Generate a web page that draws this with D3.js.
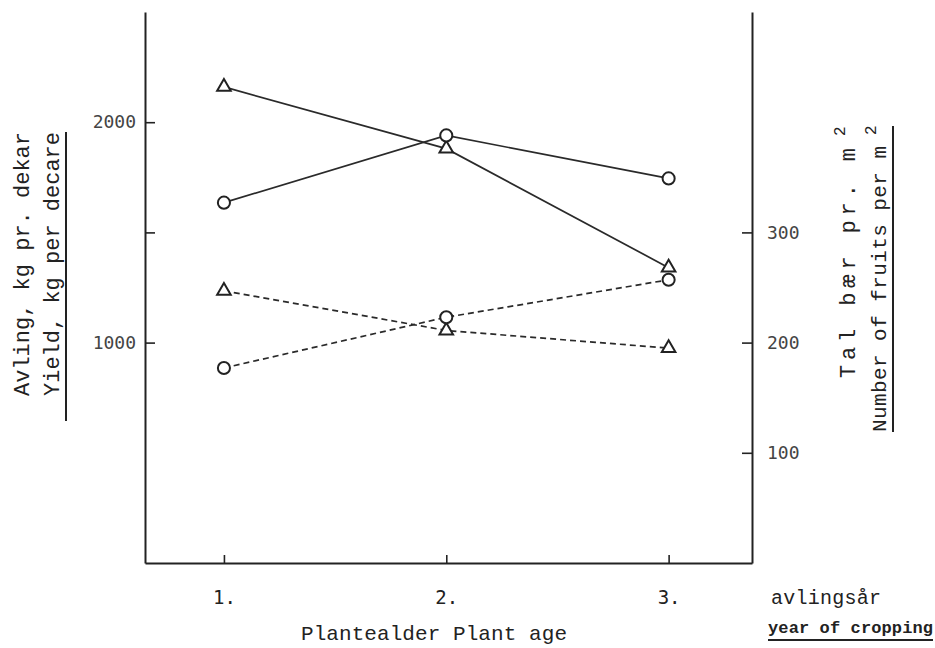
<!DOCTYPE html>
<html>
<head>
<meta charset="utf-8">
<script src="https://cdn.jsdelivr.net/npm/d3@7"></script>
<style>
  body { margin: 0; background: #fff; }
  text { font-family: "Liberation Mono", "DejaVu Sans Mono", monospace; fill: #222; }
  .tick text { font-family: "DejaVu Sans Mono", monospace; fill: #444; }
</style>
</head>
<body>
<div id="chart"></div>
<script>
// plant age (year of cropping)
var years = [1, 2, 3];

// yield, kg per decare (left axis, solid lines)
var yieldTriangle = [2160, 1880, 1340];
var yieldCircle = [1635, 1940, 1745];

// number of fruits per m2 (right axis, dashed lines)
var fruitsTriangle = [247, 211, 195];
var fruitsCircle = [177, 223, 257];

// tick labels
var leftTicks = [1000, 1500, 2000];
var leftLabels = ["1000", "", "2000"];
var rightTicks = [100, 200, 300];

var width = 935, height = 648;

var svg = d3.select("#chart")
  .append("svg")
    .attr("width", width)
    .attr("height", height);

// scales
var x = d3.scaleLinear()
  .domain([0.645, 3.375])
  .range([145, 752]);

var yLeft = d3.scaleLinear()
  .domain([0, 2500])
  .range([563, 12]);

var yRight = d3.scaleLinear()
  .domain([0, 500])
  .range([563, 12]);

// axes
var gLeft = svg.append("g")
  .attr("transform", "translate(145,0)")
  .call(d3.axisLeft(yLeft)
    .tickValues(leftTicks)
    .tickFormat(function(d, i) { return leftLabels[i]; })
    .tickSizeInner(-10)
    .tickSizeOuter(0)
    .tickPadding(9));

var gRight = svg.append("g")
  .attr("transform", "translate(752,0)")
  .call(d3.axisRight(yRight)
    .tickValues(rightTicks)
    .tickSizeInner(-10)
    .tickSizeOuter(0)
    .tickPadding(15));

var gBottom = svg.append("g")
  .attr("transform", "translate(0,563)")
  .call(d3.axisBottom(x)
    .tickValues(years)
    .tickFormat(function(d) { return d + "."; })
    .tickSizeInner(-8)
    .tickSizeOuter(0)
    .tickPadding(28));

svg.selectAll(".domain")
  .attr("stroke", "#222")
  .attr("stroke-width", 2);
svg.selectAll(".tick line")
  .attr("stroke", "#222")
  .attr("stroke-width", 1.6);
svg.selectAll(".tick text")
  .style("font-size", "18px");
gBottom.selectAll(".tick text")
  .style("font-size", "19px")
  .style("fill", "#222");

// series
var series = [
  {values: yieldTriangle, scale: yLeft, shape: d3.symbolTriangle, dash: null},
  {values: yieldCircle, scale: yLeft, shape: d3.symbolCircle, dash: null},
  {values: fruitsTriangle, scale: yRight, shape: d3.symbolTriangle, dash: "6,4"},
  {values: fruitsCircle, scale: yRight, shape: d3.symbolCircle, dash: "6,4"}
];

series.forEach(function(s) {
  var line = d3.line()
    .x(function(d, i) { return x(years[i]); })
    .y(function(d) { return s.scale(d); });

  svg.append("path")
    .datum(s.values)
    .attr("fill", "none")
    .attr("stroke", "#2a2a2a")
    .attr("stroke-width", 1.7)
    .attr("stroke-dasharray", s.dash)
    .attr("d", line);
});

series.forEach(function(s) {
  var sym = d3.symbol()
    .type(s.shape)
    .size(s.shape === d3.symbolCircle ? 115 : 80);

  svg.selectAll(null)
    .data(s.values)
    .enter()
    .append("path")
      .attr("transform", function(d, i) {
        return "translate(" + x(years[i]) + "," + s.scale(d) + ")";
      })
      .attr("d", sym)
      .attr("fill", "#fff")
      .attr("stroke", "#222")
      .attr("stroke-width", 2);
});

// left axis titles
svg.append("text")
  .attr("transform", "translate(29,264) rotate(-90)")
  .attr("text-anchor", "middle")
  .attr("textLength", 264)
  .attr("lengthAdjust", "spacing")
  .style("font-size", "22px")
  .text("Avling, kg pr. dekar");

svg.append("text")
  .attr("transform", "translate(59,264) rotate(-90)")
  .attr("text-anchor", "middle")
  .attr("textLength", 264)
  .attr("lengthAdjust", "spacing")
  .style("font-size", "22px")
  .text("Yield, kg per decare");

svg.append("line")
  .attr("x1", 66).attr("x2", 66)
  .attr("y1", 132).attr("y2", 421)
  .attr("stroke", "#222")
  .attr("stroke-width", 2);

// right axis titles
svg.append("text")
  .attr("transform", "translate(855,378) rotate(-90)")
  .attr("textLength", 230)
  .attr("lengthAdjust", "spacing")
  .style("font-size", "22px")
  .text("Tal bær pr. m");

svg.append("text")
  .attr("transform", "translate(845,136) rotate(-90)")
  .style("font-size", "16px")
  .text("2");

svg.append("text")
  .attr("transform", "translate(886,432) rotate(-90)")
  .attr("textLength", 286)
  .attr("lengthAdjust", "spacing")
  .style("font-size", "21px")
  .text("Number of fruits per m");

svg.append("text")
  .attr("transform", "translate(876,135) rotate(-90)")
  .style("font-size", "16px")
  .text("2");

svg.append("line")
  .attr("x1", 893).attr("x2", 893)
  .attr("y1", 126).attr("y2", 432)
  .attr("stroke", "#222")
  .attr("stroke-width", 2);

// bottom titles
svg.append("text")
  .attr("x", 434)
  .attr("y", 640)
  .attr("text-anchor", "middle")
  .attr("textLength", 266)
  .attr("lengthAdjust", "spacing")
  .style("font-size", "21px")
  .text("Plantealder Plant age");

svg.append("text")
  .attr("x", 771)
  .attr("y", 604)
  .attr("textLength", 110)
  .attr("lengthAdjust", "spacing")
  .style("font-size", "20px")
  .text("avlingsår");

svg.append("text")
  .attr("x", 768)
  .attr("y", 633)
  .attr("textLength", 165)
  .attr("lengthAdjust", "spacing")
  .style("font-size", "17px")
  .style("font-weight", "bold")
  .text("year of cropping");

svg.append("line")
  .attr("x1", 768).attr("x2", 933)
  .attr("y1", 640).attr("y2", 640)
  .attr("stroke", "#222")
  .attr("stroke-width", 2);
</script>
</body>
</html>
